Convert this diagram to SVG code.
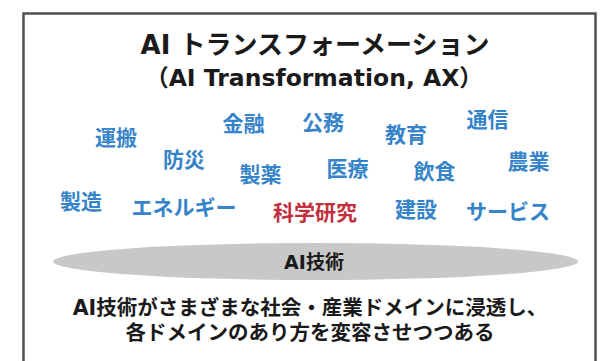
<svg xmlns="http://www.w3.org/2000/svg" width="600" height="361" viewBox="0 0 600 361">
<style>
text{font-family:"DejaVu Sans","Noto Sans CJK JP",sans-serif;font-weight:700;text-anchor:middle;dominant-baseline:central}
.t{fill:#1a1a1a}
.d{fill:#3583c9;font-size:21px}
.r{fill:#c0303d;font-size:21px}
</style>
<rect width="600" height="361" fill="#fff"/>
<rect id="frame" x="23.5" y="13.5" width="572" height="360" fill="none" stroke="#505050" stroke-width="2.5"/>
<g id="title">
<text class="t" x="315" y="45" font-size="26">AI トランスフォーメーション</text>
<text class="t" x="314" y="78" font-size="23.5">（AI Transformation, AX）</text>
</g>
<g id="domains">
<g id="unpan"><text class="d" x="116" y="137.5">運搬</text></g>
<g id="kinyu"><text class="d" x="243.5" y="124">金融</text></g>
<g id="komu"><text class="d" x="323" y="123">公務</text></g>
<g id="kyoiku"><text class="d" x="406" y="135">教育</text></g>
<g id="tsushin"><text class="d" x="487.5" y="120">通信</text></g>
<g id="bosai"><text class="d" x="184" y="160">防災</text></g>
<g id="seiyaku"><text class="d" x="260.5" y="175">製薬</text></g>
<g id="iryo"><text class="d" x="347.5" y="168.5">医療</text></g>
<g id="inshoku"><text class="d" x="434.5" y="171.5">飲食</text></g>
<g id="nogyo"><text class="d" x="528.5" y="162">農業</text></g>
<g id="seizo"><text class="d" x="81" y="201.5">製造</text></g>
<g id="energy"><text class="d" x="184" y="208">エネルギー</text></g>
<g id="kagaku"><text class="r" x="315" y="212.5">科学研究</text></g>
<g id="kensetsu"><text class="d" x="416" y="210">建設</text></g>
<g id="service"><text class="d" x="508" y="211.5">サービス</text></g>
</g>
<g id="ai-tech">
<ellipse cx="315.5" cy="261.5" rx="262.5" ry="18.5" fill="#c8c8c8"/>
<text class="t" x="314" y="261.5" font-size="19">AI技術</text>
</g>
<g id="caption">
<text class="t" x="310" y="308" font-size="20.5">AI技術がさまざまな社会・産業ドメインに浸透し、</text>
<text class="t" x="310" y="333" font-size="20.5">各ドメインのあり方を変容させつつある</text>
</g>
<g id="connectors"/>
</svg>
